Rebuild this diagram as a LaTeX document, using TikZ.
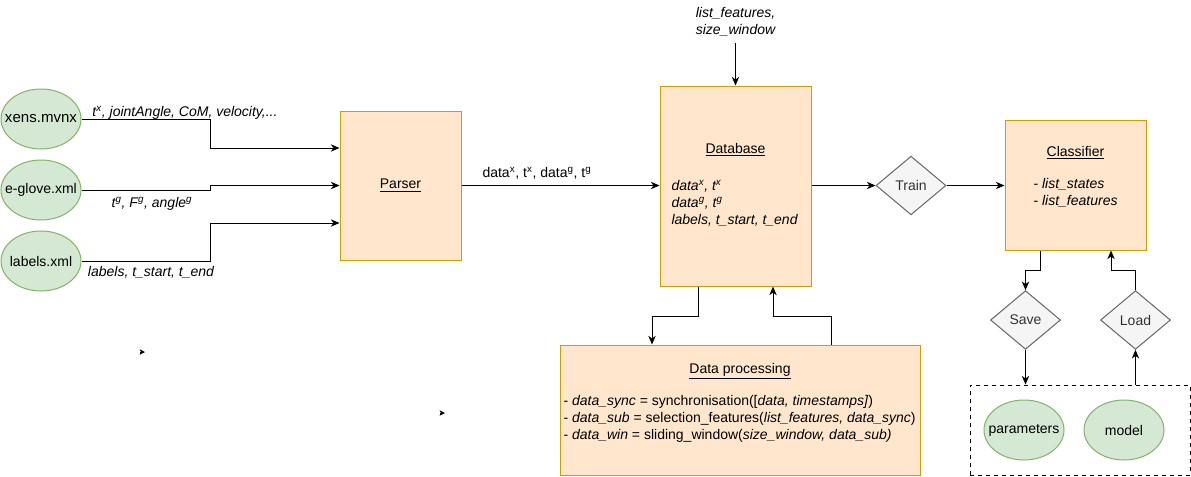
\documentclass[tikz,border=0pt]{standalone}
\usepackage{fontspec}
\setmainfont{Liberation Sans}
\usetikzlibrary{arrows.meta,shapes.geometric}
\definecolor{ellfill}{HTML}{D5E8D4}
\definecolor{elldraw}{HTML}{82B366}
\definecolor{boxfill}{HTML}{FFE6CC}
\definecolor{boxdraw}{HTML}{D79B00}
\definecolor{decfill}{HTML}{F5F5F5}
\definecolor{decdraw}{HTML}{666666}
\definecolor{dectext}{HTML}{333333}
\tikzset{
  file/.style={ellipse, draw=elldraw, fill=ellfill, minimum width=60pt, minimum height=45pt, inner sep=0pt},
  block/.style={rectangle, draw=boxdraw, fill=boxfill, inner sep=0pt},
  choice/.style={diamond, draw=decdraw, fill=decfill, text=dectext, minimum width=52.5pt, minimum height=44pt, inner sep=0pt},
  store/.style={rectangle, draw, dashed, inner sep=0pt},
  flow/.style={-{Stealth[length=6.5pt,width=5.5pt,inset=2pt]}},
  stub/.style={-{Stealth[length=4pt,width=4pt,inset=1pt]}},
  lbl/.style={inner sep=0pt, align=center},
}
\begin{document}
\begin{tikzpicture}[x=0.75pt, y=-0.75pt, line width=0.75pt, font=\fontsize{10.5pt}{12.75pt}\selectfont]
      \useasboundingbox (0,0) rectangle (1191,476);
      \node [file, label={[font=\fontsize{11.3pt}{13pt}\selectfont]center:xens.mvnx}] (xens) at (41,119) {};
      \node [file, label=center:e-glove.xml] (eglove) at (41,190) {};
      \node [file, label=center:labels.xml] (labels) at (41,261) {};
      \node [block, minimum width=90.75pt, minimum height=111.75pt] (parser) at (400.5,185.5) {\underline{Parser}};
      \node [block, minimum width=113.25pt, minimum height=150pt] (db) at (735.5,186) {};
      \node [lbl] (dbtitle) at (735.5,150) {\underline{Database}};
      \node [lbl, anchor=west, align=left] (dbtext) at (671,203) {\itshape data\textsuperscript{x}, t\textsuperscript{x}\\ \itshape data\textsuperscript{g}, t\textsuperscript{g}\\ \itshape labels, t\_start, t\_end};
      \node [lbl] (dbin) at (735.5,22) {\itshape list\_features,\\ \itshape size\_window};
      \node [choice] (train) at (911,185.5) {Train};
      \node [block, minimum width=105.75pt, minimum height=97.5pt] (clf) at (1075.5,185) {};
      \node [lbl] (clftitle) at (1075.5,153) {\underline{Classifier}};
      \node [lbl, anchor=west, align=left] (clftext) at (1033,192.5) {- \textit{list\_states}\\ - \textit{list\_features}};
      \node [choice] (save) at (1025.5,320) {Save};
      \node [choice] (load) at (1135.5,320) {Load};
      \node [store, minimum width=165pt, minimum height=67.5pt] (keep) at (1080,430) {};
      \node [file, label=center:parameters] (params) at (1024,430) {};
      \node [file, label=center:model] (model) at (1124,430) {};
      \node [block, minimum width=270pt, minimum height=97.5pt] (proc) at (740,410) {};
      \node [lbl] (proctitle) at (740,371) {\underline{Data processing}};
      \node [lbl, anchor=west, align=left] (proctext) at (563,419) {- \textit{data\_sync} = synchronisation([\textit{data, timestamps]})\\ - \textit{data\_sub} = selection\_features(\textit{list\_features, data\_sync})\\ - \textit{data\_win} = sliding\_window(\textit{size\_window, data\_sub)}};
      \draw [flow] (xens.east) -| (210,148) -- (parser.west |- 0,148);
      \draw [flow] (eglove.east) -| (210,185.5) -- (parser.west);
      \draw [flow] (labels.east) -| (210,223) -- (parser.west |- 0,223);
      \node [lbl] (xlbl) at (185,113) {\itshape t\textsuperscript{x}, jointAngle, CoM, velocity,...};
      \node [lbl] (glbl) at (152,204) {\itshape t\textsuperscript{g}, F\textsuperscript{g}, angle\textsuperscript{g}};
      \node [lbl] (llbl) at (151,272) {\itshape labels, t\_start, t\_end};
      \draw [flow] (parser.east) -- (parser.east -| db.west);
      \node [lbl] (dlbl) at (537,173) {data\textsuperscript{x}, t\textsuperscript{x}, data\textsuperscript{g}, t\textsuperscript{g}};
      \draw [flow, shorten <=4.5pt] (dbin) -- (db);
      \draw [flow] (train.west -| db.east) -- (train.west);
      \draw [flow] (train.east) -- (train.east -| clf.west);
      \draw [flow] (db.south -| 698,0) |- (652,316) -- (proc.north -| 652,0);
      \draw [flow] (proc.north -| 831,0) |- (773,316) -- (db.south -| 773,0);
      \draw [flow] (clf.south -| 1040,0) |- (1025.5,270) -- (save.north);
      \draw [flow] (save.south) -- (save.south |- keep.north);
      \draw [flow] (keep.north -| load.south) -- (load.south);
      \draw [flow] (load.north) |- (1111,270) -- (clf.south -| 1111,0);
      \coordinate (stray1) at (140,352);
      \coordinate (stray1end) at (145,352);
      \coordinate (stray2) at (440,413);
      \coordinate (stray2end) at (445,413);
      \draw [stub] (stray1) -- (stray1end);
      \draw [stub] (stray2) -- (stray2end);
\end{tikzpicture}
\end{document}
